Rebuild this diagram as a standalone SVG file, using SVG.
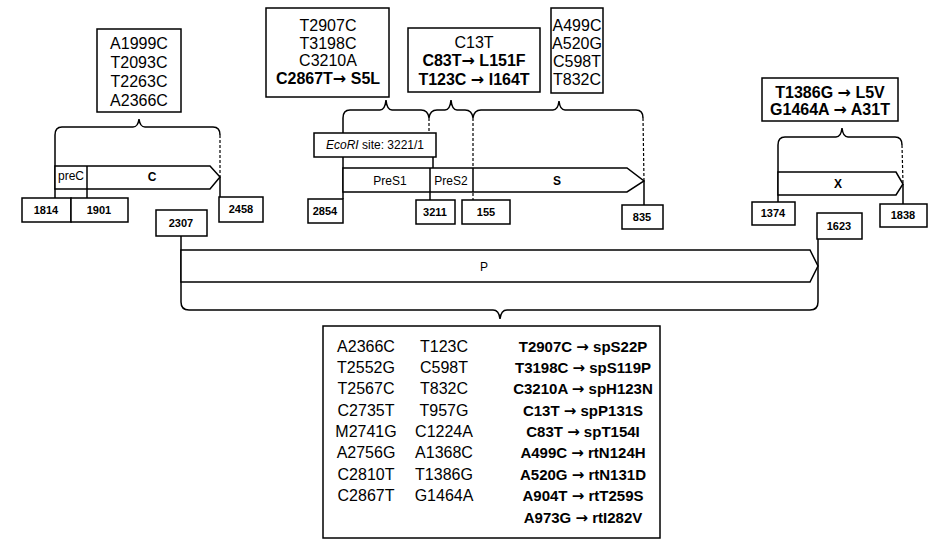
<svg xmlns="http://www.w3.org/2000/svg" width="938" height="546" viewBox="0 0 938 546">
<style>
.bx{fill:#fff;stroke:#000;stroke-width:1.5}
.ln{fill:none;stroke:#000;stroke-width:1.5}
.ds{fill:none;stroke:#000;stroke-width:1.2;stroke-dasharray:3 2}
.t{font-family:"Liberation Sans",Arial,sans-serif;font-size:16px;text-anchor:middle;fill:#000}
.b{font-weight:bold}
.c3{font-size:15px}
.ar{font-family:"DejaVu Sans",sans-serif;font-weight:bold}
.n{font-family:"Liberation Sans",Arial,sans-serif;font-size:11px;font-weight:bold;text-anchor:middle;fill:#000}
.g{font-family:"Liberation Sans",Arial,sans-serif;font-size:12px;text-anchor:middle;fill:#000}
</style>
<rect width="938" height="546" fill="#fff"/>
<g id="connectors">
  <path class="ln" d="M55,135 Q55,127 62,127 H133 Q138,127 139,119 Q140,127 145,127 H213 Q220,127 220,135"/>
  <line class="ln" x1="55" y1="135" x2="55" y2="198"/>
  <line class="ds" x1="220" y1="135" x2="220" y2="177"/>
  <line class="ln" x1="220" y1="177" x2="220" y2="197"/>
  <line class="ln" x1="87" y1="189" x2="87" y2="198"/>
  <path class="ln" d="M343,118 Q343,110 350,110 H380 Q385,110 386,100 Q387,110 392,110 H421 Q428,110 429,118 Q430,110 437,110 H445 Q450,110 451,100 Q452,110 457,110 H465 Q472,110 473,118 Q474,110 481,110 H553 Q558,110 559,101 Q560,110 565,110 H636 Q643,110 643,118"/>
  <line class="ln" x1="343" y1="118" x2="343" y2="199"/>
  <line class="ds" x1="429" y1="118" x2="429" y2="133"/>
  <line class="ln" x1="433" y1="157" x2="433" y2="168"/>
  <line class="ln" x1="430" y1="192" x2="430" y2="200"/>
  <line class="ds" x1="473" y1="118" x2="473" y2="200"/>
  <line class="ds" x1="643" y1="118" x2="644" y2="181"/>
  <line class="ln" x1="644" y1="181" x2="644" y2="205"/>
  <path class="ln" d="M778,145 Q778,137 785,137 H836 Q841,137 842,128 Q843,137 848,137 H895 Q902,137 902,145"/>
  <line class="ln" x1="778" y1="145" x2="778" y2="202"/>
  <line class="ds" x1="902" y1="145" x2="903" y2="184"/>
  <line class="ln" x1="903" y1="184" x2="903" y2="204"/>
  <line class="ln" x1="181" y1="236" x2="181" y2="302"/>
  <line class="ln" x1="818" y1="239" x2="818" y2="302"/>
  <path class="ln" d="M181,302 Q181,310 189,310 H493 Q499,310 500,319 Q501,310 507,310 H810 Q818,310 818,302"/>
</g>
<g id="gene-C">
  <path class="bx" d="M55,166 H210 L220,177 L210,189 H55 Z"/>
  <line class="ln" x1="87" y1="166" x2="87" y2="189"/>
  <text class="g" x="71" y="180" font-size="11">preC</text>
  <text class="g b" x="152" y="181">C</text>
</g>
<g id="gene-S">
  <path class="bx" d="M343,168 H627 L644,181 L627,192 H343 Z"/>
  <line class="ln" x1="430" y1="168" x2="430" y2="192"/>
  <line class="ln" x1="473" y1="168" x2="473" y2="192"/>
  <text class="g" x="390" y="185">PreS1</text>
  <text class="g" x="451" y="185">PreS2</text>
  <text class="g b" x="557" y="185">S</text>
</g>
<g id="gene-X">
  <path class="bx" d="M778,172 H896 L903,184 L896,195 H778 Z"/>
  <text class="g b" x="838" y="188">X</text>
</g>
<g id="gene-P">
  <path class="bx" d="M181,250 H810 L818,266 L810,282 H181 Z"/>
  <text class="g" x="484" y="271">P</text>
</g>
<g id="box-C">
  <rect class="bx" x="97" y="29" width="84" height="83"/>
  <text class="t" x="139" y="49">A1999C</text>
  <text class="t" x="139" y="68">T2093C</text>
  <text class="t" x="139" y="87">T2263C</text>
  <text class="t" x="139" y="106">A2366C</text>
</g>
<g id="box-preS1">
  <rect class="bx" x="266" y="8" width="123" height="89"/>
  <text class="t" x="328" y="31">T2907C</text>
  <text class="t" x="328" y="49">T3198C</text>
  <text class="t" x="328" y="66">C3210A</text>
  <text class="t b" x="328" y="84">C2867T<tspan class="ar">→</tspan> S5L</text>
</g>
<g id="box-preS2">
  <rect class="bx" x="408" y="28" width="132" height="64"/>
  <text class="t" x="474" y="48">C13T</text>
  <text class="t b" x="474" y="66">C83T<tspan class="ar">→</tspan> L151F</text>
  <text class="t b" x="474" y="85">T123C <tspan class="ar">→</tspan> I164T</text>
</g>
<g id="box-S">
  <rect class="bx" x="551" y="8" width="52" height="85"/>
  <text class="t" x="577" y="31">A499C</text>
  <text class="t" x="577" y="49">A520G</text>
  <text class="t" x="577" y="67">C598T</text>
  <text class="t" x="577" y="85">T832C</text>
</g>
<g id="box-X">
  <rect class="bx" x="762" y="78" width="136" height="43"/>
  <text class="t b" x="830" y="98">T1386G <tspan class="ar">→</tspan> L5V</text>
  <text class="t b" x="830" y="115">G1464A <tspan class="ar">→</tspan> A31T</text>
</g>
<g id="box-EcoRI">
  <rect class="bx" x="314" y="133" width="122" height="24"/>
  <text class="g" x="375" y="149"><tspan font-style="italic">EcoRI</tspan> site: 3221/1</text>
</g>
<g id="pos-1814"><rect class="bx" x="22" y="198" width="49" height="24"/><text class="n" x="46" y="214">1814</text></g>
<g id="pos-1901"><rect class="bx" x="71" y="198" width="57" height="24"/><text class="n" x="99" y="214">1901</text></g>
<g id="pos-2307"><rect class="bx" x="156" y="210" width="51" height="26"/><text class="n" x="181" y="227">2307</text></g>
<g id="pos-2458"><rect class="bx" x="219" y="197" width="44" height="25"/><text class="n" x="241" y="213">2458</text></g>
<g id="pos-2854"><rect class="bx" x="308" y="199" width="35" height="24"/><text class="n" x="325" y="215">2854</text></g>
<g id="pos-3211"><rect class="bx" x="416" y="200" width="39" height="24"/><text class="n" x="435" y="216">3211</text></g>
<g id="pos-155"><rect class="bx" x="462" y="200" width="48" height="24"/><text class="n" x="486" y="216">155</text></g>
<g id="pos-835"><rect class="bx" x="622" y="205" width="41" height="24"/><text class="n" x="642" y="221">835</text></g>
<g id="pos-1374"><rect class="bx" x="752" y="202" width="43" height="23"/><text class="n" x="773" y="217">1374</text></g>
<g id="pos-1623"><rect class="bx" x="817" y="213" width="45" height="26"/><text class="n" x="839" y="230">1623</text></g>
<g id="pos-1838"><rect class="bx" x="880" y="204" width="47" height="23"/><text class="n" x="903" y="219">1838</text></g>
<g id="box-P">
  <rect class="bx" x="323" y="326" width="337" height="212"/>
  <text class="t" x="366" y="352">A2366C</text>
  <text class="t" x="366" y="373">T2552G</text>
  <text class="t" x="366" y="394">T2567C</text>
  <text class="t" x="366" y="416">C2735T</text>
  <text class="t" x="366" y="437">M2741G</text>
  <text class="t" x="366" y="458">A2756G</text>
  <text class="t" x="366" y="480">C2810T</text>
  <text class="t" x="366" y="501">C2867T</text>
  <text class="t" x="444" y="352">T123C</text>
  <text class="t" x="444" y="373">C598T</text>
  <text class="t" x="444" y="394">T832C</text>
  <text class="t" x="444" y="416">T957G</text>
  <text class="t" x="444" y="437">C1224A</text>
  <text class="t" x="444" y="458">A1368C</text>
  <text class="t" x="444" y="480">T1386G</text>
  <text class="t" x="444" y="501">G1464A</text>
  <text class="t b c3" x="583" y="352">T2907C <tspan class="ar">→</tspan> spS22P</text>
  <text class="t b c3" x="583" y="373">T3198C <tspan class="ar">→</tspan> spS119P</text>
  <text class="t b c3" x="583" y="394">C3210A <tspan class="ar">→</tspan> spH123N</text>
  <text class="t b c3" x="583" y="416">C13T <tspan class="ar">→</tspan> spP131S</text>
  <text class="t b c3" x="583" y="437">C83T <tspan class="ar">→</tspan> spT154I</text>
  <text class="t b c3" x="583" y="458">A499C <tspan class="ar">→</tspan> rtN124H</text>
  <text class="t b c3" x="583" y="480">A520G <tspan class="ar">→</tspan> rtN131D</text>
  <text class="t b c3" x="583" y="501">A904T <tspan class="ar">→</tspan> rtT259S</text>
  <text class="t b c3" x="583" y="523">A973G <tspan class="ar">→</tspan> rtI282V</text>
</g>
</svg>
